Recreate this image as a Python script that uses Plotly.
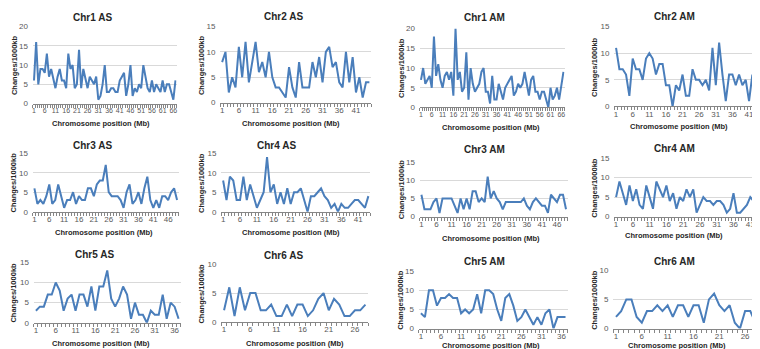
import plotly.graph_objects as go

W, H = 760, 349

# ---------------- data ----------------
titles = ["Chr1 AS", "Chr2 AS", "Chr1 AM", "Chr2 AM",
          "Chr3 AS", "Chr4 AS", "Chr3 AM", "Chr4 AM",
          "Chr5 AS", "Chr6 AS", "Chr5 AM", "Chr6 AM"]

chr1_as = [6, 16, 5, 9, 9, 8, 13, 7, 9, 6, 4, 7, 9, 6, 6, 4, 13, 9, 10, 4, 5, 14, 4, 9, 6, 4, 7,
           6, 5, 7, 1, 2, 5, 10, 3, 3, 4, 4, 3, 3, 6, 7, 8, 2, 5, 10, 2, 4, 3, 5, 4, 10, 7, 4,
           3, 6, 3, 5, 4, 3, 6, 3, 5, 5, 3, 1, 6]
chr2_as = [8, 10, 2, 5, 3, 11, 5, 12, 4, 8, 12, 6, 8, 5, 10, 5, 3, 3, 2, 1, 7, 3, 1, 8, 3, 3,
           3, 8, 5, 9, 4, 10, 11, 7, 8, 4, 3, 10, 4, 9, 2, 5, 1, 4, 4]
chr1_am = [7, 10, 6, 7, 8, 5, 18, 8, 11, 7, 5, 8, 9, 7, 9, 3, 20, 7, 9, 4, 5, 14, 2, 10, 6, 4,
           5, 6, 9, 10, 4, 4, 1, 8, 2, 2, 6, 4, 2, 5, 6, 7, 8, 3, 4, 6, 5, 6, 9, 6, 3, 7, 8, 4,
           4, 2, 4, 4, 2, 0, 5, 2, 3, 5, 2, 5, 9]
chr2_am = [11, 7, 7, 6, 2, 9, 7, 7, 5, 9, 10, 9, 6, 8, 8, 4, 4, 0, 4, 3, 6, 2, 2, 7, 5, 5, 4,
           5, 3, 11, 4, 12, 6, 1, 6, 6, 4, 6, 4, 5, 1, 6, 1, 6, 6]
chr3_as = [6, 2, 3, 2, 4, 7, 2, 3, 7, 4, 1, 3, 3, 5, 2, 4, 3, 3, 6, 6, 4, 7, 8, 8, 12, 5, 4,
           4, 4, 3, 1, 5, 7, 2, 3, 5, 2, 6, 9, 3, 1, 3, 1, 4, 4, 3, 5, 6, 3]
chr4_as = [8, 3, 9, 8, 3, 3, 9, 3, 7, 4, 1, 3, 5, 14, 5, 7, 2, 5, 2, 6, 2, 5, 5, 6, 3, 0, 4,
           4, 5, 6, 4, 3, 1, 2, 0, 2, 1, 1, 2, 3, 3, 2, 1, 4]
chr3_am = [6, 2, 2, 2, 4, 5, 1, 5, 5, 5, 5, 3, 1, 5, 2, 5, 2, 7, 7, 4, 5, 4, 11, 5, 7, 5, 4,
           2, 4, 4, 4, 4, 4, 4, 5, 3, 2, 4, 5, 4, 3, 3, 1, 6, 5, 4, 6, 6, 2]
chr4_am = [5, 9, 6, 3, 8, 4, 7, 3, 2, 8, 5, 2, 9, 7, 5, 8, 4, 6, 2, 5, 4, 7, 5, 7, 1, 3, 5,
           4, 4, 3, 4, 4, 3, 1, 2, 6, 1, 1, 2, 3, 5, 4, 6, 2]
chr5_as = [3, 4, 4, 7, 7, 10, 8, 3, 6, 7, 3, 7, 7, 4, 9, 3, 9, 9, 13, 6, 4, 6, 9, 7, 1, 5, 2,
           2, 0, 3, 2, 2, 7, 1, 5, 4, 1]
chr6_as = [2, 6, 1, 6, 2, 5, 5, 2, 2, 3, 1, 1, 3, 1, 3, 3, 1, 2, 4, 5, 2, 4, 3, 1, 1, 2, 2, 3]
chr5_am = [4, 3, 10, 10, 6, 8, 8, 9, 8, 8, 4, 5, 4, 5, 9, 4, 10, 10, 9, 5, 2, 8, 9, 6, 2, 3,
           5, 3, 1, 3, 1, 4, 5, 0, 3, 3, 3]
chr6_am = [2, 3, 5, 5, 2, 1, 3, 3, 4, 3, 4, 2, 4, 4, 2, 4, 4, 1, 5, 6, 4, 3, 4, 1, 0, 3, 3, 1]

series = [chr1_as, chr2_as, chr1_am, chr2_am,
          chr3_as, chr4_as, chr3_am, chr4_am,
          chr5_as, chr6_as, chr5_am, chr6_am]
y_max = [20, 15, 20, 15, 15, 15, 15, 15, 15, 10, 15, 10]
y_title = "Changes/1000kb"
x_title = "Chromosome position (Mb)"

# ---------------- layout (pixel positions) ----------------
# plot box: x0, x1, y_top (at y max), y_bottom (at 0)
boxes = [(24, 168, 15, 94), (212, 363, 15, 93), (412, 557, 17, 98), (607, 757, 15, 97),
         (24, 170, 145, 205), (213, 362, 145, 205), (412, 560, 154, 210), (607, 755, 150, 210),
         (25, 172, 257, 319), (213, 360, 259, 318), (411, 560, 266, 325), (606, 751, 265, 325)]
title_pos = [(84, 6), (275, 5), (477, 6), (667, 5),
             (84, 137), (268, 137), (477, 141), (667, 140),
             (86, 249), (275, 250), (477, 256), (667, 256)]
xtitle_pos = [(92, 114), (283, 114), (483, 119), (672, 118),
              (95, 226), (283, 226), (483, 232), (667, 229),
              (92, 340), (287, 340), (483, 342), (670, 342)]
ytitle_x = [5, 193, 393, 587, 5, 193, 393, 587, 5, 193, 393, 587]

LINE = "#4A7EBB"
GRID = "#D9D9D9"
TICKC = "#595959"
FONT = "Liberation Sans"

fig = go.Figure()
annotations = []
for i, (vals, ttl) in enumerate(zip(series, titles)):
    k = "" if i == 0 else str(i + 1)
    n = len(vals)
    x = list(range(1, n + 1))
    fig.add_trace(go.Scatter(x=x, y=vals, mode="lines",
                             line=dict(color=LINE, width=2),
                             xaxis="x" + k, yaxis="y" + k, showlegend=False,
                             hoverinfo="x+y"))
    x0, x1, yt, yb = boxes[i]
    fs = 7 if n > 60 else 8
    fig.layout["xaxis" + k] = dict(
        domain=[x0 / W, x1 / W], anchor="y" + k,
        range=[0.5, n + 0.5], tickvals=list(range(1, n + 1, 5)), tickangle=0,
        showgrid=False, zeroline=False, showline=True, linecolor="#868686", linewidth=1,
        ticks="", tickfont=dict(family=FONT, size=fs, color=TICKC),
        minor=dict(tick0=0.5, dtick=1, ticks="outside", ticklen=3, tickcolor="#868686"),
        fixedrange=True)
    ym = y_max[i]
    fig.layout["yaxis" + k] = dict(
        domain=[1 - yb / H, 1 - yt / H], anchor="x" + k,
        range=[0, ym], tickvals=list(range(0, ym + 1, 5)),
        showgrid=True, gridcolor=GRID, gridwidth=1, zeroline=False, showline=False,
        tickfont=dict(family=FONT, size=8, color=TICKC), ticks="", ticklabelstandoff=4,
        fixedrange=True)
    tx, ty = title_pos[i]
    annotations.append(dict(text="<b>%s</b>" % ttl, x=tx / W, y=1 - ty / H, xref="paper",
                            yref="paper", showarrow=False, xanchor="center", yanchor="middle",
                            font=dict(family=FONT, size=10, color="#262626")))
    xx, xy = xtitle_pos[i]
    annotations.append(dict(text="<b>%s</b>" % x_title, x=xx / W, y=1 - xy / H, xref="paper",
                            yref="paper", showarrow=False, xanchor="center", yanchor="middle",
                            font=dict(family=FONT, size=7.5, color="#262626")))
    annotations.append(dict(text="<b>%s</b>" % y_title, x=ytitle_x[i] / W,
                            y=1 - ((yt + yb) / 2) / H, xref="paper", yref="paper",
                            showarrow=False, textangle=-90, xanchor="center", yanchor="middle",
                            font=dict(family=FONT, size=7.5, color="#262626")))

fig.update_layout(width=W, height=H, margin=dict(l=0, r=0, t=0, b=0),
                  paper_bgcolor="white", plot_bgcolor="white",
                  annotations=annotations, showlegend=False)
fig.write_html("out.html")
